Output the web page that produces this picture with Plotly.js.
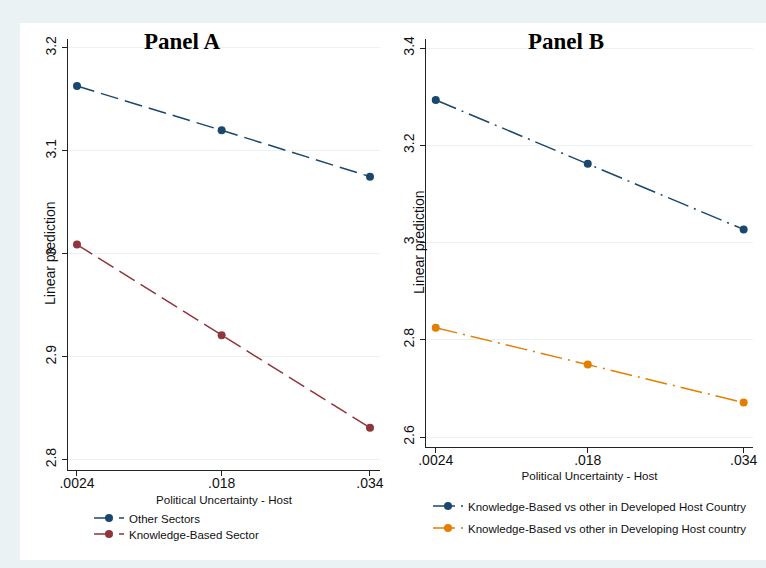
<!DOCTYPE html>
<html>
<head>
<meta charset="utf-8">
<script src="https://cdn.plot.ly/plotly-3.0.1.min.js"></script>
<style>
html,body{margin:0;padding:0;background:#ffffff;}
#chart{width:766px;height:568px;}
</style>
</head>
<body>
<div id="chart"></div>
<script>
// ---- data ----
var uncertainty = [0.0024, 0.018, 0.034];
var uncertaintyLabels = ['.0024', '.018', '.034'];

var otherSectors = [3.163, 3.120, 3.075];
var knowledgeSector = [3.009, 2.921, 2.831];

var developedHost = [3.293, 3.162, 3.027];
var developingHost = [2.825, 2.749, 2.671];

var yTicksA = [2.8, 2.9, 3.0, 3.1, 3.2];
var yTickLabelsA = ['2.8', '2.9', '3', '3.1', '3.2'];
var yTicksB = [2.6, 2.8, 3.0, 3.2, 3.4];
var yTickLabelsB = ['2.6', '2.8', '3', '3.2', '3.4'];

var seriesNames = ['Other Sectors', 'Knowledge-Based Sector',
  'Knowledge-Based vs other in Developed Host Country',
  'Knowledge-Based vs other in Developing Host country'];
var panelTitles = ['Panel A', 'Panel B'];
var xTitle = 'Political Uncertainty - Host';
var yTitle = 'Linear prediction';

// ---- styling ----
var navy = '#1a476f', maroon = '#90353b', orange = '#e37e00';
var gridCol = '#eaf2f3';
var sans = 'Liberation Sans, Arial, Helvetica, sans-serif';
var dashA = '18px,7px';
var dashB = '22px,6px,2px,6px';

// pixel -> paper helpers (plot area: x 68..753, y 39..470)
var L = 68, R = 753, T = 39, B = 470;
function px(X){ return (X - L) / (R - L); }
function py(Y){ return (B - Y) / (B - T); }

function trace(y, name, color, dash, xa, ya, leg){
  return {
    x: uncertainty, y: y, name: name, type: 'scatter', mode: 'lines+markers',
    xaxis: xa, yaxis: ya, legend: leg,
    line: {color: color, width: 1.5, dash: dash},
    marker: {color: color, size: 8}
  };
}

var data = [
  trace(otherSectors, seriesNames[0], navy, dashA, 'x', 'y', 'legend'),
  trace(knowledgeSector, seriesNames[1], maroon, dashA, 'x', 'y', 'legend2'),
  trace(developedHost, seriesNames[2], navy, dashB, 'x2', 'y2', 'legend3'),
  trace(developingHost, seriesNames[3], orange, dashB, 'x2', 'y2', 'legend4')
];

function xAxis(domain, range, anchor, standoff){
  return {
    domain: domain, range: range, anchor: anchor,
    tickvals: uncertainty, ticktext: uncertaintyLabels,
    showgrid: false, zeroline: false,
    showline: true, linecolor: '#222', linewidth: 1,
    ticks: 'outside', ticklen: 5, tickcolor: '#222', tickwidth: 1,
    ticklabelstandoff: -5,
    tickfont: {family: sans, size: 14, color: '#111'},
    title: {text: xTitle, font: {family: sans, size: 11.6, color: '#111'}, standoff: standoff}
  };
}
function yAxis(domain, range, anchor, tv, tt){
  return {
    domain: domain, range: range, anchor: anchor,
    tickvals: tv, ticktext: tt, tickangle: -90,
    showgrid: true, gridcolor: gridCol, gridwidth: 1, zeroline: false,
    showline: true, linecolor: '#222', linewidth: 1,
    ticks: 'outside', ticklen: 5, tickcolor: '#222', tickwidth: 1,
    tickfont: {family: sans, size: 14, color: '#111'}
  };
}

function legendAt(X, Y){
  return {x: px(X), y: py(Y), xanchor: 'left', yanchor: 'middle',
    bgcolor: 'rgba(0,0,0,0)', borderwidth: 0,
    font: {family: sans, size: 11.5, color: '#111'}};
}

var layout = {
  width: 766, height: 568,
  margin: {l: L, r: 766 - R, t: T, b: 568 - B, pad: 0, autoexpand: false},
  paper_bgcolor: '#eaf2f3',
  plot_bgcolor: 'rgba(0,0,0,0)',
  showlegend: true,
  font: {family: sans, color: '#111'},
  xaxis: xAxis([0, px(380)], [0.00143, 0.03508], 'y', 6),
  yaxis: yAxis([0, 1], [2.790, 3.2087], 'x', yTicksA, yTickLabelsA),
  xaxis2: xAxis([px(426), 1], [0.0014, 0.03496], 'y2', 4),
  yaxis2: yAxis([py(447.3), 1], [2.579, 3.4185], 'x2', yTicksB, yTickLabelsB),
  legend: legendAt(89, 518),
  legend2: legendAt(89, 534),
  legend3: legendAt(428, 506),
  legend4: legendAt(428, 528),
  shapes: [{
    type: 'rect', xref: 'paper', yref: 'paper', layer: 'below',
    x0: px(20), x1: px(770), y0: py(560), y1: py(23),
    fillcolor: '#ffffff', line: {width: 0}
  }],
  annotations: [
    {text: panelTitles[0], xref: 'paper', yref: 'paper', x: px(181.5), y: py(41),
      xanchor: 'center', yanchor: 'middle', showarrow: false,
      font: {family: 'Liberation Serif, Times New Roman, serif', size: 23, color: '#000', weight: 'bold'}},
    {text: panelTitles[1], xref: 'paper', yref: 'paper', x: px(565.5), y: py(41),
      xanchor: 'center', yanchor: 'middle', showarrow: false,
      font: {family: 'Liberation Serif, Times New Roman, serif', size: 23, color: '#000', weight: 'bold'}},
    {text: yTitle, xref: 'paper', yref: 'paper', x: px(50), y: py(253), textangle: -90,
      xanchor: 'center', yanchor: 'middle', showarrow: false,
      font: {family: sans, size: 14, color: '#111'}},
    {text: yTitle, xref: 'paper', yref: 'paper', x: px(419), y: py(242), textangle: -90,
      xanchor: 'center', yanchor: 'middle', showarrow: false,
      font: {family: sans, size: 14, color: '#111'}}
  ]
};

Plotly.newPlot('chart', data, layout, {displayModeBar: false, staticPlot: true});
</script>
</body>
</html>
